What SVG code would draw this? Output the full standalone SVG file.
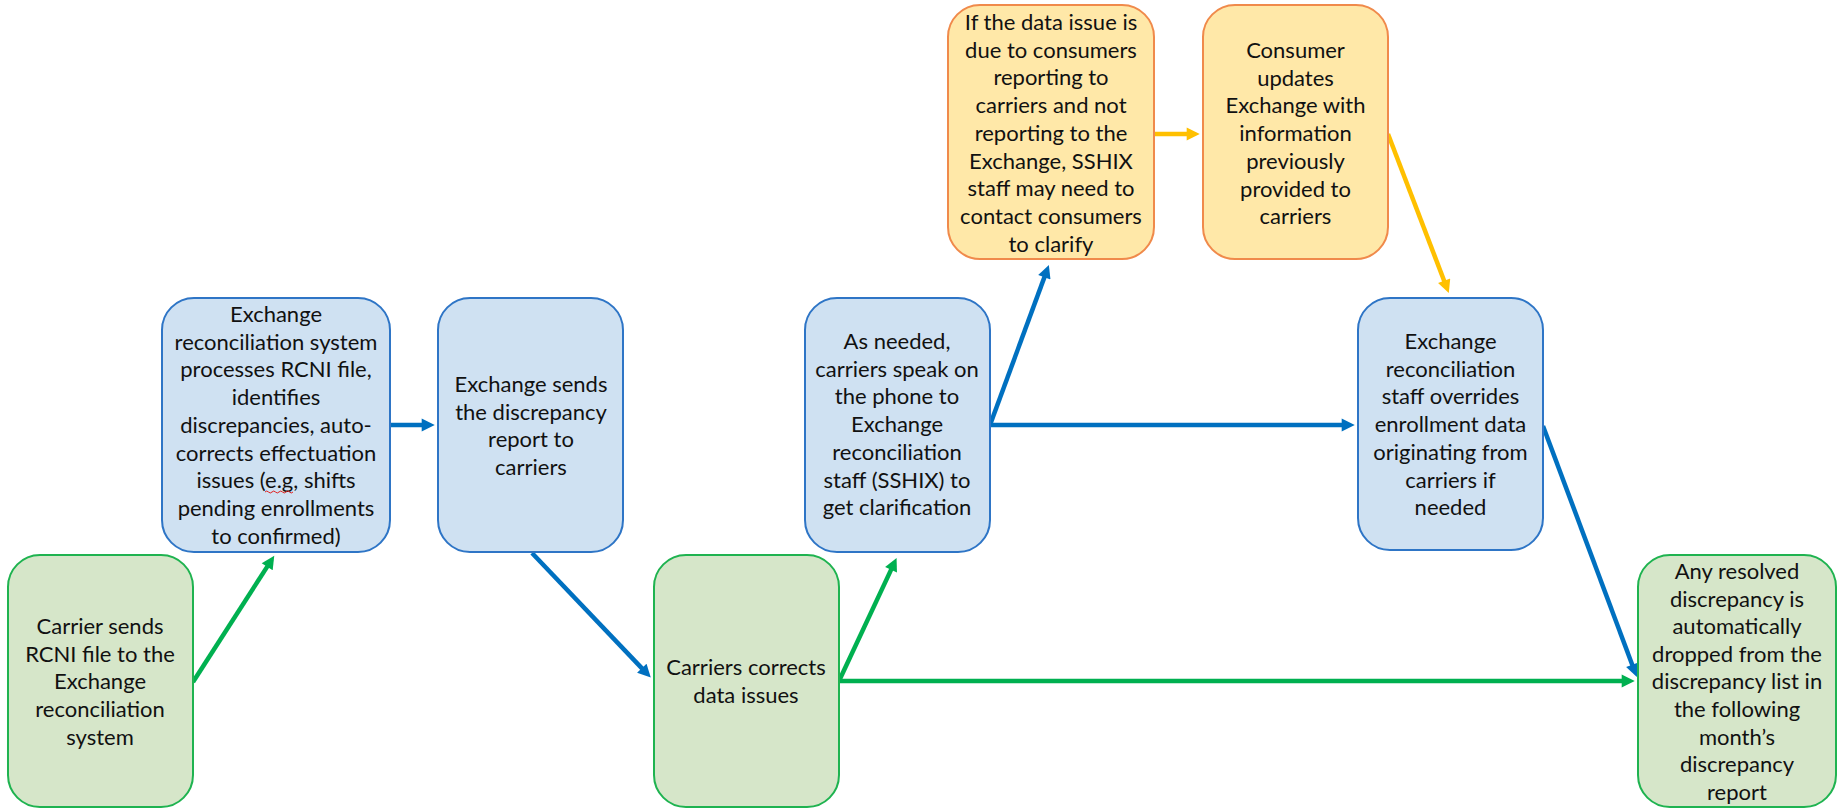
<svg xmlns="http://www.w3.org/2000/svg" width="1841" height="809" viewBox="0 0 1841 809">
<style>
.node text{font-family:Lato,"Liberation Sans",sans-serif;font-size:22px;fill:#111111;text-anchor:middle}
.blue rect{fill:#cfe1f2;stroke:#2e75c6;stroke-width:2}
.green rect{fill:#d6e6c9;stroke:#1fb350;stroke-width:2}
.orange rect{fill:#ffe8a8;stroke:#f08a4b;stroke-width:2}
.c{fill:none;stroke-width:4.5}
.cb{stroke:#0070c0}
.cg{stroke:#00b050}
.co{stroke:#ffc000}
</style>
<defs>
<marker id="hb" viewBox="0 0 10 10" refX="1" refY="5" markerWidth="3.6" markerHeight="2.9" orient="auto" markerUnits="strokeWidth"><path d="M0,0 L10,5 L0,10 z" fill="#0070c0"/></marker>
<marker id="hg" viewBox="0 0 10 10" refX="1" refY="5" markerWidth="3.6" markerHeight="2.9" orient="auto" markerUnits="strokeWidth"><path d="M0,0 L10,5 L0,10 z" fill="#00b050"/></marker>
<marker id="ho" viewBox="0 0 10 10" refX="1" refY="5" markerWidth="3.6" markerHeight="2.9" orient="auto" markerUnits="strokeWidth"><path d="M0,0 L10,5 L0,10 z" fill="#ffc000"/></marker>
</defs>
<rect width="1841" height="809" fill="#ffffff"/>

<g id="connectors">
<line class="c cg" x1="193" y1="682" x2="267.9" y2="565.6" marker-end="url(#hg)"/>
<line class="c cb" x1="390" y1="425" x2="423" y2="425" marker-end="url(#hb)"/>
<line class="c cb" x1="532" y1="553" x2="642.7" y2="669.1" marker-end="url(#hb)"/>
<line class="c cg" x1="839" y1="681" x2="891.6" y2="568.6" marker-end="url(#hg)"/>
<line class="c cg" x1="839" y1="681" x2="1623" y2="681" marker-end="url(#hg)"/>
<line class="c cb" x1="990" y1="425" x2="1044.8" y2="276.1" marker-end="url(#hb)"/>
<line class="c cb" x1="990" y1="425" x2="1343" y2="425" marker-end="url(#hb)"/>
<line class="c co" x1="1154" y1="134" x2="1188" y2="134" marker-end="url(#ho)"/>
<line class="c co" x1="1388" y1="134" x2="1444.6" y2="282" marker-end="url(#ho)"/>
<line class="c cb" x1="1543" y1="426" x2="1632.7" y2="666" marker-end="url(#hb)"/>
</g>

<g id="n1" class="node green">
<rect x="8" y="555" width="185" height="252" rx="32"/>
<text><tspan x="100" y="634">Carrier sends</tspan><tspan x="100" y="661.7">RCNI file to the</tspan><tspan x="100" y="689.4">Exchange</tspan><tspan x="100" y="717.1">reconciliation</tspan><tspan x="100" y="744.8">system</tspan></text>
</g>

<g id="n2" class="node blue">
<rect x="162" y="298" width="228" height="254" rx="32"/>
<text><tspan x="276" y="322">Exchange</tspan><tspan x="276" y="349.7">reconciliation system</tspan><tspan x="276" y="377.4">processes RCNI file,</tspan><tspan x="276" y="405.1">identifies</tspan><tspan x="276" y="432.8">discrepancies, auto-</tspan><tspan x="276" y="460.5">corrects effectuation</tspan><tspan x="276" y="488.2">issues (e.g, shifts</tspan><tspan x="276" y="515.9">pending enrollments</tspan><tspan x="276" y="543.6">to confirmed)</tspan></text>
<path d="M265,492 q1.75,-2 3.5,0 t3.5,0 t3.5,0 t3.5,0 t3.5,0 t3.5,0 t3.5,0 t3.5,0" fill="none" stroke="#e02020" stroke-width="1"/>
</g>

<g id="n3" class="node blue">
<rect x="438" y="298" width="185" height="254" rx="32"/>
<text><tspan x="531" y="392">Exchange sends</tspan><tspan x="531" y="419.7">the discrepancy</tspan><tspan x="531" y="447.4">report to</tspan><tspan x="531" y="475.1">carriers</tspan></text>
</g>

<g id="n4" class="node green">
<rect x="654" y="555" width="185" height="252" rx="32"/>
<text><tspan x="746" y="675">Carriers corrects</tspan><tspan x="746" y="702.7">data issues</tspan></text>
</g>

<g id="n5" class="node blue">
<rect x="805" y="298" width="185" height="254" rx="32"/>
<text><tspan x="897" y="349">As needed,</tspan><tspan x="897" y="376.7">carriers speak on</tspan><tspan x="897" y="404.4">the phone to</tspan><tspan x="897" y="432.1">Exchange</tspan><tspan x="897" y="459.8">reconciliation</tspan><tspan x="897" y="487.5">staff (SSHIX) to</tspan><tspan x="897" y="515.2">get clarification</tspan></text>
</g>

<g id="n6" class="node orange">
<rect x="948" y="5" width="206" height="254" rx="32"/>
<text><tspan x="1051" y="30">If the data issue is</tspan><tspan x="1051" y="57.7">due to consumers</tspan><tspan x="1051" y="85.4">reporting to</tspan><tspan x="1051" y="113.1">carriers and not</tspan><tspan x="1051" y="140.8">reporting to the</tspan><tspan x="1051" y="168.5">Exchange, SSHIX</tspan><tspan x="1051" y="196.2">staff may need to</tspan><tspan x="1051" y="223.9">contact consumers</tspan><tspan x="1051" y="251.6">to clarify</tspan></text>
</g>

<g id="n7" class="node orange">
<rect x="1203" y="5" width="185" height="254" rx="32"/>
<text><tspan x="1295.5" y="58">Consumer</tspan><tspan x="1295.5" y="85.7">updates</tspan><tspan x="1295.5" y="113.4">Exchange with</tspan><tspan x="1295.5" y="141.1">information</tspan><tspan x="1295.5" y="168.8">previously</tspan><tspan x="1295.5" y="196.5">provided to</tspan><tspan x="1295.5" y="224.2">carriers</tspan></text>
</g>

<g id="n8" class="node blue">
<rect x="1358" y="298" width="185" height="252" rx="32"/>
<text><tspan x="1450.5" y="349">Exchange</tspan><tspan x="1450.5" y="376.7">reconciliation</tspan><tspan x="1450.5" y="404.4">staff overrides</tspan><tspan x="1450.5" y="432.1">enrollment data</tspan><tspan x="1450.5" y="459.8">originating from</tspan><tspan x="1450.5" y="487.5">carriers if</tspan><tspan x="1450.5" y="515.2">needed</tspan></text>
</g>

<g id="n9" class="node green">
<rect x="1638" y="555" width="198" height="252" rx="32"/>
<text><tspan x="1737" y="579">Any resolved</tspan><tspan x="1737" y="606.6">discrepancy is</tspan><tspan x="1737" y="634.2">automatically</tspan><tspan x="1737" y="661.8">dropped from the</tspan><tspan x="1737" y="689.4">discrepancy list in</tspan><tspan x="1737" y="717">the following</tspan><tspan x="1737" y="744.6">month’s</tspan><tspan x="1737" y="772.2">discrepancy</tspan><tspan x="1737" y="799.8">report</tspan></text>
</g>
</svg>
